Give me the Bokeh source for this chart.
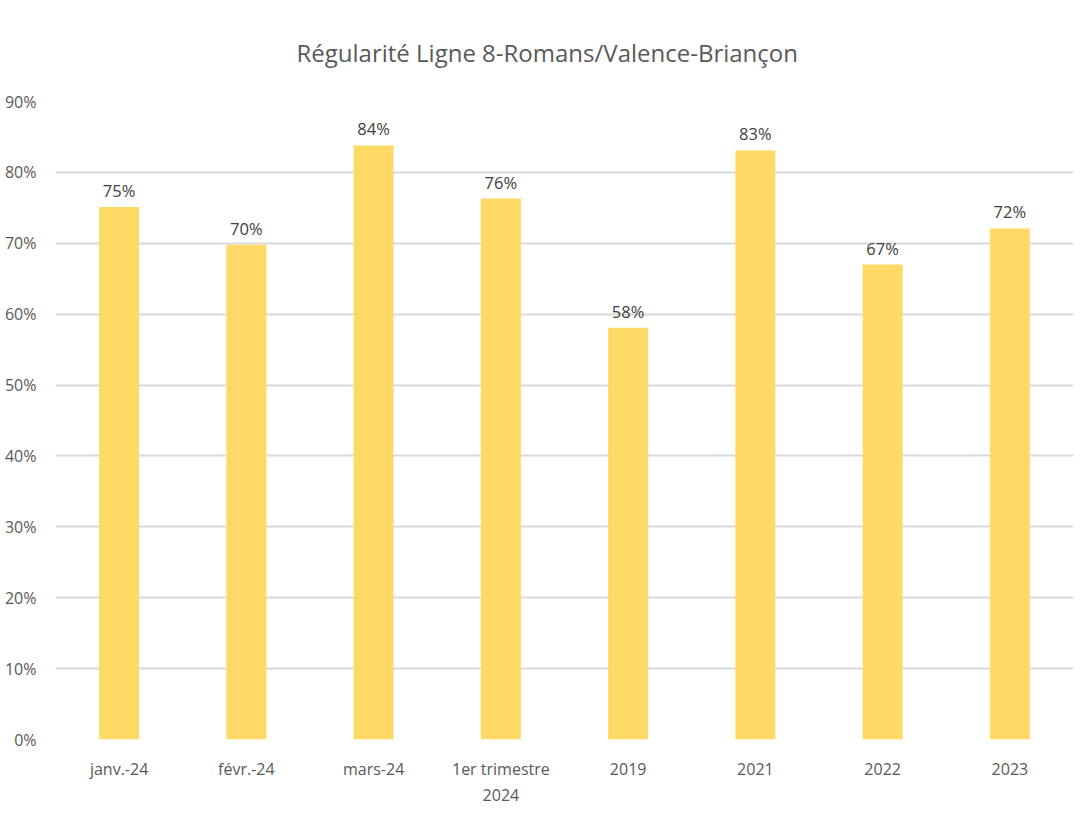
from bokeh.plotting import figure
from bokeh.models import ColumnDataSource, LabelSet, FixedTicker, NumeralTickFormatter, Title
from bokeh.core.properties import value
from bokeh.embed import file_html
from bokeh.resources import INLINE

categories = ["janv.-24", "févr.-24", "mars-24", "1er trimestre\n2024", "2019", "2021", "2022", "2023"]
values = [0.751, 0.698, 0.838, 0.763, 0.581, 0.831, 0.670, 0.721]
labels = ["75%", "70%", "84%", "76%", "58%", "83%", "67%", "72%"]
y_ticks = [0.0, 0.1, 0.2, 0.3, 0.4, 0.5, 0.6, 0.7, 0.8, 0.9]

FONT = "Open Sans"

source = ColumnDataSource(dict(cat=categories, val=values, lab=labels))

p = figure(x_range=categories, y_range=(0, 0.9), output_backend="svg", toolbar_location=None,
           frame_width=1018, frame_height=638,
           min_border_left=55, min_border_right=3, min_border_top=101, min_border_bottom=78,
           background_fill_color="white", border_fill_color="white")
p.x_range.range_padding = 0
p.outline_line_color = None

p.vbar(x="cat", top="val", width=0.314, source=source, fill_color="#FFD966", line_color=None)

p.add_layout(LabelSet(x="cat", y="val", text="lab", source=source, y_offset=10,
                      text_align="center", text_baseline="alphabetic",
                      text_font=value(FONT), text_font_size=value("16.5px"),
                      text_color=value("#404040")))

t = Title(text="Régularité Ligne 8-Romans/Valence-Briançon", align="left", offset=241,
          text_font=FONT, text_font_size="24px", text_font_style="normal",
          text_color="#595959", standoff=66)
p.add_layout(t, "above")

p.xgrid.grid_line_color = None
p.ygrid.grid_line_color = "#d9d9d9"
p.ygrid.grid_line_width = 2
p.ygrid.ticker = FixedTicker(ticks=y_ticks)

p.yaxis.ticker = FixedTicker(ticks=y_ticks)
p.yaxis.formatter = NumeralTickFormatter(format="0%")
for ax in (p.xaxis[0], p.yaxis[0]):
    ax.axis_line_color = None
    ax.major_tick_line_color = None
    ax.minor_tick_line_color = None
    ax.major_label_text_font = FONT
    ax.major_label_text_font_size = "16px"
    ax.major_label_text_color = "#595959"
p.yaxis.major_label_standoff = 13
p.xaxis.major_label_standoff = 12

open("out.html", "w").write(file_html(p, INLINE))
